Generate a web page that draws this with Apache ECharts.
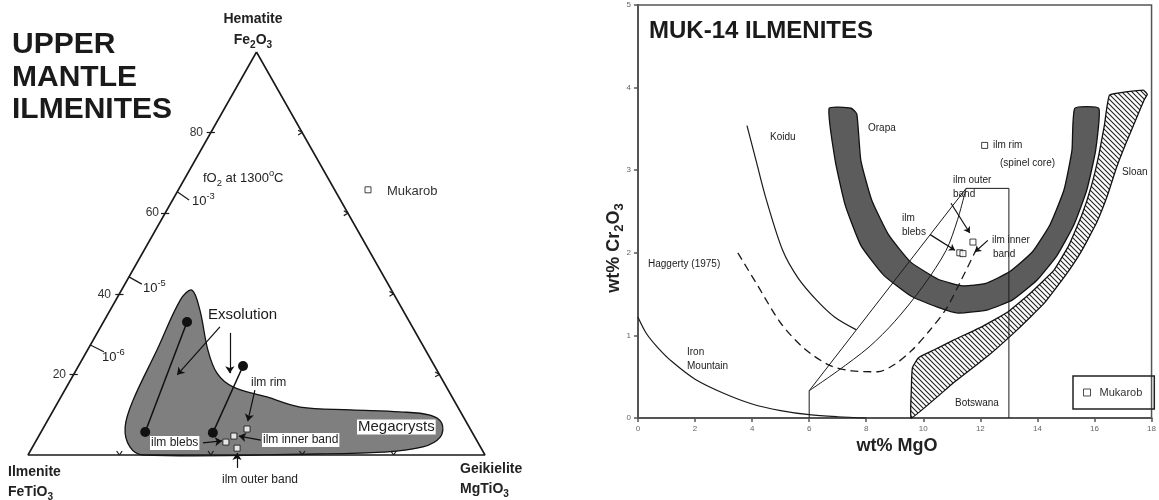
<!DOCTYPE html>
<html lang="en">
  <head>
    <meta charset="UTF-8" />
    <title>Ilmenites</title>
    <style>
      html, body { margin: 0; padding: 0; background: #fff; }
      #main { width: 1159px; height: 500px; }
    </style>
  </head>
  <body>
    <div id="main"></div>
    <script src="https://cdn.jsdelivr.net/npm/echarts@6/dist/echarts.min.js"></script>
    <script>
      const FONT = "Liberation Sans, Arial, Helvetica, sans-serif";

      // ---- left panel: ternary, every point is [Fe2O3 %, MgTiO3 %] (FeTiO3 = rest)
      const triangle = [[100, 0], [0, 0], [0, 100], [100, 0]];
      const edgeTicks = [20, 40, 60, 80];
      const field = [
        [40.9, 15.4], [36.0, 19.6], [26.1, 26.3], [20.3, 31.2], [16.9, 36.4],
        [14.4, 45.1], [11.9, 53.6], [11.2, 64.9], [10.7, 76.0], [9.9, 83.0],
        [7.9, 86.6], [4.5, 88.0], [2.0, 85.4], [0.7, 77.3], [0.25, 63.1],
        [0, 25.2], [2.0, 21.3], [6.9, 17.8], [13.6, 16.2], [26.1, 15.2], [38.5, 14.1]
      ];
      const tieLines = [
        [[33.0, 18.3], [5.7, 22.8]],
        [[22.1, 36.0], [5.5, 37.7]]
      ];
      const ilmLeft = [[6.45, 44.7], [4.7, 42.7], [3.2, 41.7], [1.7, 44.9]];
      const mukarobLeft = [[65.8, 41.5]];
      const fO2Ticks = [
        [[65.3, 0], [63.3, 3.6]],
        [[44.2, 0], [42.4, 3.7]],
        [[27.3, 0], [25.6, 3.8]]
      ];
      const leftArrows = [
        [[31.8, 26.1], [19.9, 22.7]],
        [[30.3, 29.1], [20.3, 34.0]],
        [[16.1, 41.6], [8.4, 43.9]],
        [[3.0, 36.8], [3.5, 40.7]],
        [[3.7, 49.1], [4.7, 43.8]],
        [[-3.2, 47.3], [0.5, 45.5]]
      ];

      // ---- right panel: wt% MgO vs wt% Cr2O3
      const xTicks = [0, 2, 4, 6, 8, 10, 12, 14, 16, 18];
      const yTicks = [0, 1, 2, 3, 4, 5];
      const ironMountain = [[0, 1.22], [0.3, 1.02], [0.7, 0.85], [1.2, 0.68], [2, 0.47], [3, 0.3], [4, 0.17], [5, 0.09], [6, 0.04], [7, 0.015], [8, 0]];
      const koidu = [[3.82, 3.54], [4.15, 3.1], [4.5, 2.64], [5.07, 2.03], [5.6, 1.7], [6.25, 1.43], [6.9, 1.22], [7.64, 1.07]];
      const haggerty = [[3.5, 2.0], [4.2, 1.6], [5.0, 1.15], [5.8, 0.85], [6.7, 0.64], [7.5, 0.57], [8.4, 0.56], [9.0, 0.65], [9.6, 0.82], [10.2, 1.05], [10.8, 1.32], [11.3, 1.65], [11.9, 2.07]];
      const botswanaBox = [[6, 0], [6, 0.33], [11.5, 2.78], [13, 2.78], [13, 0]];
      const botswanaCurve = [[6, 0.33], [7, 0.57], [8.1, 0.86], [9, 1.17], [10, 1.6], [10.8, 2.03], [11.2, 2.4], [11.5, 2.78]];
      const orapaOuter = [
        [6.70, 3.75], [6.91, 3.12], [7.26, 2.58], [7.81, 2.09], [8.61, 1.73], [9.55, 1.48], [10.52, 1.34],
        [11.22, 1.27], [12.26, 1.31], [13.13, 1.43], [13.99, 1.67], [14.69, 1.97], [15.28, 2.34],
        [15.73, 2.76], [16.04, 3.24], [16.15, 3.75]
      ];
      const orapaInner = [
        [7.47, 3.75], [7.67, 3.68], [7.81, 3.12], [8.19, 2.64], [8.78, 2.22], [9.55, 1.89], [10.52, 1.68],
        [11.39, 1.60], [12.19, 1.63], [13.02, 1.77], [13.82, 2.01], [14.44, 2.34], [14.93, 2.76],
        [15.21, 3.24], [15.31, 3.75]
      ];
      const sloanOuter = [
        [9.58, 0.0], [11.04, 0.42], [12.26, 0.75], [13.30, 1.07], [14.24, 1.39], [14.97, 1.72],
        [15.56, 2.03], [16.08, 2.37], [16.46, 2.70], [16.77, 3.03], [17.12, 3.34], [17.47, 3.63],
        [17.74, 3.85], [17.85, 3.92], [17.71, 3.97], [16.53, 3.91]
      ];
      const sloanInner = [
        [16.35, 3.55], [16.15, 3.18], [15.90, 2.82], [15.56, 2.46], [15.10, 2.09], [14.58, 1.79],
        [13.72, 1.50], [12.95, 1.28], [12.08, 1.11], [11.04, 0.94], [10.35, 0.82], [9.83, 0.73],
        [9.62, 0.61], [9.58, 0.34]
      ];
      const ilmRight = [[12.15, 3.3], [11.74, 2.13], [11.28, 2.0], [11.39, 1.99]];
      const rightArrows = [
        [[10.97, 2.60], [11.63, 2.24]],
        [[10.24, 2.22], [11.11, 2.03]],
        [[12.26, 2.15], [11.81, 2.01]]
      ];

      const tern = ([a, m]) => [m + a / 2, a];

      // small marks on the triangle edges
      const tickSegs = [];
      edgeTicks.forEach(function (v) {
        const l = tern([v, 0]);
        tickSegs.push({ coords: [[l[0] - 0.9, l[1]], [l[0] + 0.9, l[1]]] });
        const r = tern([v, 100 - v]);
        tickSegs.push({ coords: [[r[0] - 0.9, r[1] + 0.6], [r[0], r[1]]] });
        tickSegs.push({ coords: [[r[0] - 0.9, r[1] - 0.6], [r[0], r[1]]] });
        const b = tern([0, v]);
        tickSegs.push({ coords: [[b[0] - 0.6, b[1] + 1.0], [b[0], b[1]]] });
        tickSegs.push({ coords: [[b[0] + 0.6, b[1] + 1.0], [b[0], b[1]]] });
      });

      function hatch() {
        const c = document.createElement("canvas");
        c.width = 5;
        c.height = 5;
        const g = c.getContext("2d");
        g.strokeStyle = "#222";
        g.lineWidth = 1.1;
        g.beginPath();
        g.moveTo(-1, -1); g.lineTo(6, 6);
        g.moveTo(-1, 4); g.lineTo(1, 6);
        g.moveTo(4, -1); g.lineTo(6, 1);
        g.stroke();
        return c;
      }

      function polygon(grid, pts, style, smooth, z) {
        return {
          type: "custom", xAxisIndex: grid, yAxisIndex: grid, clip: false, z: z, silent: true,
          data: [0],
          renderItem: function (params, api) {
            return {
              type: "polygon",
              shape: { points: pts.map(function (p) { return api.coord(p); }), smooth: smooth },
              style: style
            };
          }
        };
      }

      function line(grid, data, extra) {
        return Object.assign({
          type: "line", xAxisIndex: grid, yAxisIndex: grid, data: data, showSymbol: false,
          symbol: "none", clip: false, silent: true, z: 5,
          lineStyle: { color: "#1a1a1a", width: 1.2 }
        }, extra || {});
      }

      function txt(x, y, text, opt) {
        return {
          type: "text", x: x, y: y, z: 100, silent: true,
          style: Object.assign({
            text: text, fontFamily: FONT, fontSize: 11, fill: "#222",
            align: "left", verticalAlign: "middle"
          }, opt || {})
        };
      }
      function chem(size, bold) {
        const w = bold ? "bold" : "normal";
        return {
          t: { fontFamily: FONT, fontSize: size, fontWeight: w, fill: "#222", lineHeight: size + 6 },
          s: { fontFamily: FONT, fontSize: size * 0.72, fontWeight: w, fill: "#222", lineHeight: size * 0.72, verticalAlign: "bottom" },
          u: { fontFamily: FONT, fontSize: size * 0.72, fontWeight: w, fill: "#222", lineHeight: size * 0.72, verticalAlign: "top" }
        };
      }

      const myChart = echarts.init(document.getElementById("main"));

      const option = {
        animation: false,
        backgroundColor: "#fff",
        grid: [
          { left: 28, top: 52, width: 457, height: 403 },
          { left: 638, top: 5, width: 517, height: 413, show: true, borderColor: "#555", borderWidth: 1.5, backgroundColor: "transparent" }
        ],
        xAxis: [
          { gridIndex: 0, type: "value", min: 0, max: 100, show: false },
          {
            gridIndex: 1, type: "value", min: 0, max: 18, interval: 2,
            axisLine: { lineStyle: { color: "#555", width: 2 } },
            axisTick: { length: 4, lineStyle: { color: "#555", width: 1.5 } },
            axisLabel: { fontSize: 8, color: "#666", margin: 7, fontFamily: FONT,
              formatter: function (v) { return xTicks.indexOf(v) >= 0 ? String(v) : ""; } },
            splitLine: { show: false }
          }
        ],
        yAxis: [
          { gridIndex: 0, type: "value", min: 0, max: 100, show: false },
          {
            gridIndex: 1, type: "value", min: 0, max: 5, interval: 1,
            axisLine: { show: true, lineStyle: { color: "#555", width: 2 } },
            axisTick: { show: true, length: 4, lineStyle: { color: "#555", width: 1.5 } },
            axisLabel: { fontSize: 8, color: "#666", margin: 7, fontFamily: FONT,
              formatter: function (v) { return yTicks.indexOf(v) >= 0 ? String(v) : ""; } },
            splitLine: { show: false }
          }
        ],
        legend: {
          data: ["Mukarob"], left: 1073, top: 376, orient: "vertical",
          borderColor: "#222", borderWidth: 1.5, borderRadius: 0,
          padding: [11, 12, 11, 10], itemWidth: 7, itemHeight: 7, itemGap: 4,
          icon: "rect",
          itemStyle: { color: "#fff", borderColor: "#222", borderWidth: 1 },
          textStyle: { fontSize: 11, color: "#333", fontFamily: FONT, padding: [0, 0, 0, 4] }
        },
        series: [
          // ---------- ternary ----------
          polygon(0, field.map(tern), { fill: "#7f7f7f", stroke: "#111", lineWidth: 1.3 }, 0.35, 1),
          line(0, triangle.map(tern), { lineStyle: { color: "#1a1a1a", width: 1.6 }, z: 3 }),
          {
            type: "lines", coordinateSystem: "cartesian2d", xAxisIndex: 0, yAxisIndex: 0, silent: true, clip: false, z: 4,
            lineStyle: { color: "#1a1a1a", width: 1.2, opacity: 1 },
            data: tickSegs.concat(fO2Ticks.map(function (s) { return { coords: s.map(tern) }; }))
          },
          ...tieLines.map(function (s) {
            return line(0, s.map(tern), {
              showSymbol: true, symbol: "circle", symbolSize: 10,
              itemStyle: { color: "#111" }, lineStyle: { color: "#111", width: 1.5 }, z: 6
            });
          }),
          {
            type: "lines", coordinateSystem: "cartesian2d", xAxisIndex: 0, yAxisIndex: 0, silent: true, clip: false, z: 7,
            symbol: ["none", "arrow"], symbolSize: 7,
            lineStyle: { color: "#111", width: 1.2, opacity: 1 },
            data: leftArrows.map(function (s) { return { coords: s.map(tern) }; })
          },
          {
            name: "Mukarob", type: "scatter", xAxisIndex: 0, yAxisIndex: 0, clip: false, silent: true, z: 8,
            symbol: "rect", symbolSize: 6,
            itemStyle: { color: "#fff", borderColor: "#111", borderWidth: 1 },
            data: ilmLeft.concat(mukarobLeft).map(tern)
          },
          // ---------- MgO vs Cr2O3 ----------
          polygon(1, orapaOuter.concat(orapaInner.slice().reverse()), { fill: "#5c5c5c", stroke: "#111", lineWidth: 1.3 }, 0.15, 1),
          polygon(1, sloanOuter.concat(sloanInner), { fill: { image: hatch(), repeat: "repeat" }, stroke: "#111", lineWidth: 1.3 }, 0.1, 1),
          line(1, ironMountain, { smooth: 0.3 }),
          line(1, koidu, { smooth: 0.3 }),
          line(1, haggerty, { smooth: 0.3, lineStyle: { color: "#1a1a1a", width: 1.3, type: [8, 5] } }),
          line(1, botswanaBox, { lineStyle: { color: "#1a1a1a", width: 1 } }),
          line(1, botswanaCurve, { smooth: 0.3, lineStyle: { color: "#1a1a1a", width: 1 } }),
          {
            type: "lines", coordinateSystem: "cartesian2d", xAxisIndex: 1, yAxisIndex: 1, silent: true, clip: false, z: 7,
            symbol: ["none", "arrow"], symbolSize: 6,
            lineStyle: { color: "#111", width: 1.2, opacity: 1 },
            data: rightArrows.map(function (s) { return { coords: s }; })
          },
          {
            name: "Mukarob", type: "scatter", xAxisIndex: 1, yAxisIndex: 1, silent: true, z: 8,
            symbol: "rect", symbolSize: 6,
            itemStyle: { color: "#fff", borderColor: "#111", borderWidth: 1 },
            data: ilmRight
          }
        ],
        graphic: [
          // left panel texts
          txt(12, 45, "UPPER", { fontSize: 30, fontWeight: "bold", fill: "#1a1a1a" }),
          txt(12, 78, "MANTLE", { fontSize: 30, fontWeight: "bold", fill: "#1a1a1a" }),
          txt(12, 110, "ILMENITES", { fontSize: 30, fontWeight: "bold", fill: "#1a1a1a" }),
          txt(253, 19, "Hematite", { fontSize: 14, fontWeight: "bold", align: "center" }),
          txt(253, 40, "{t|Fe}{s|2}{t|O}{s|3}", { align: "center", rich: chem(14, true) }),
          txt(8, 472, "Ilmenite", { fontSize: 14, fontWeight: "bold" }),
          txt(8, 492, "{t|FeTiO}{s|3}", { rich: chem(14, true) }),
          txt(460, 469, "Geikielite", { fontSize: 14, fontWeight: "bold" }),
          txt(460, 489, "{t|MgTiO}{s|3}", { rich: chem(14, true) }),
          txt(203, 133, "80", { fontSize: 12, align: "right", fill: "#333" }),
          txt(159, 213, "60", { fontSize: 12, align: "right", fill: "#333" }),
          txt(111, 295, "40", { fontSize: 12, align: "right", fill: "#333" }),
          txt(66, 375, "20", { fontSize: 12, align: "right", fill: "#333" }),
          txt(203, 178, "{t|fO}{s|2}{t| at 1300}{u|o}{t|C}", { rich: chem(13, false) }),
          txt(192, 201, "{t|10}{u|-3}", { rich: chem(13, false) }),
          txt(143, 288, "{t|10}{u|-5}", { rich: chem(13, false) }),
          txt(102, 357, "{t|10}{u|-6}", { rich: chem(13, false) }),
          txt(387, 191, "Mukarob", { fontSize: 13, fill: "#333" }),
          txt(208, 315, "Exsolution", { fontSize: 15, fill: "#1a1a1a" }),
          txt(251, 383, "ilm rim", { fontSize: 12, fill: "#222" }),
          txt(150, 443, "ilm blebs", { fontSize: 12, backgroundColor: "#fff", padding: [1, 1] }),
          txt(262, 440, "ilm inner band", { fontSize: 12, backgroundColor: "#fff", padding: [1, 1] }),
          txt(222, 480, "ilm outer band", { fontSize: 12 }),
          txt(357, 427, "Megacrysts", { fontSize: 15, backgroundColor: "#fff", padding: [0, 1] }),
          // right panel texts
          txt(649, 31, "MUK-14 ILMENITES", { fontSize: 24, fontWeight: "bold", fill: "#1a1a1a" }),
          {
            type: "text", x: 614, y: 248, rotation: Math.PI / 2, z: 100, silent: true,
            style: { text: "{t|wt% Cr}{s|2}{t|O}{s|3}", align: "center", verticalAlign: "middle", rich: chem(18, true) }
          },
          txt(897, 446, "wt% MgO", { fontSize: 18, fontWeight: "bold", align: "center" }),
          txt(770, 137, "Koidu", { fontSize: 10 }),
          txt(868, 128, "Orapa", { fontSize: 10 }),
          txt(993, 145, "ilm rim", { fontSize: 10 }),
          txt(1000, 163, "(spinel core)", { fontSize: 10 }),
          txt(953, 180, "ilm outer", { fontSize: 10 }),
          txt(953, 194, "band", { fontSize: 10 }),
          txt(902, 218, "ilm", { fontSize: 10 }),
          txt(902, 232, "blebs", { fontSize: 10 }),
          txt(992, 240, "ilm inner", { fontSize: 10 }),
          txt(993, 254, "band", { fontSize: 10 }),
          txt(1122, 172, "Sloan", { fontSize: 10 }),
          txt(648, 264, "Haggerty (1975)", { fontSize: 10 }),
          txt(687, 352, "Iron", { fontSize: 10 }),
          txt(687, 366, "Mountain", { fontSize: 10 }),
          txt(955, 403, "Botswana", { fontSize: 10 })
        ]
      };

      myChart.setOption(option);
    </script>
  </body>
</html>
